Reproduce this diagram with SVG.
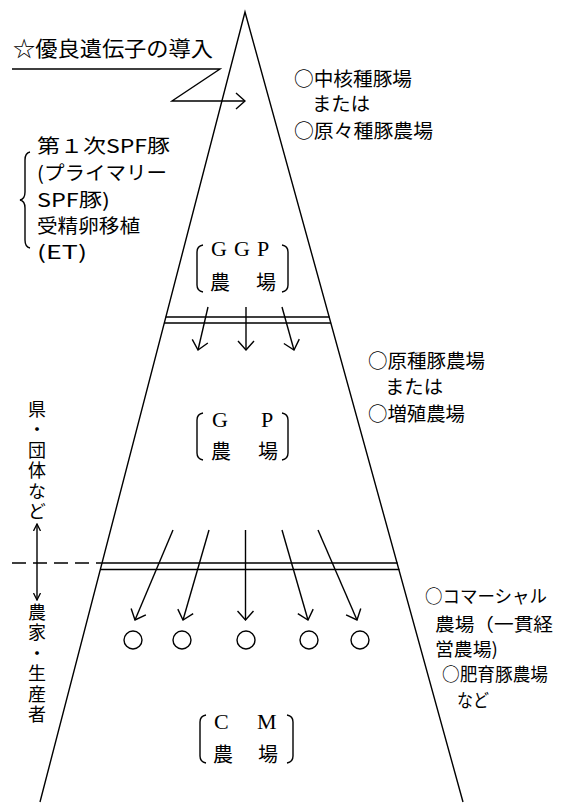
<svg xmlns="http://www.w3.org/2000/svg" width="566" height="806" viewBox="0 0 566 806">
<style>
.ln{stroke:#000;stroke-width:1.4;fill:none}
.jp{font-family:"Noto Sans CJK JP","Noto Sans",sans-serif;fill:#000}
.lat{font-family:"Liberation Serif","Noto Sans CJK JP",serif;fill:#000}
.t18{font-size:18px}
.t19{font-size:19px}
.t20{font-size:20px}
.vt{font-size:18px;writing-mode:vertical-rl;letter-spacing:2.5px}
</style>
<defs>
<marker id="ah" viewBox="0 0 11 18" refX="10" refY="9" markerWidth="11" markerHeight="18" markerUnits="userSpaceOnUse" orient="auto">
<path d="M1,1 L10,9 L1,17" fill="none" stroke="#000" stroke-width="1.4"/>
</marker>
<marker id="ahs" viewBox="0 0 8 8" refX="7" refY="4" markerWidth="8" markerHeight="8" markerUnits="userSpaceOnUse" orient="auto-start-reverse">
<path d="M0,0.5 L7,4 L0,7.5" fill="none" stroke="#000" stroke-width="1.3"/>
</marker>
</defs>
<rect width="566" height="806" fill="#fff"/>

<g id="pyramid">
<path class="ln" d="M40,802 L245,12 L463,802"/>
</g>

<g id="connectors">
<path class="ln" d="M12,69 L220,69 L172,101 L245,101" marker-end="url(#ah)"/>
<path class="ln" d="M165.7,317 L329.5,317 M164.1,323 L331.1,323"/>
<path class="ln" d="M208,307 L198,350" marker-end="url(#ah)"/>
<path class="ln" d="M246,307 L246,350" marker-end="url(#ah)"/>
<path class="ln" d="M282,307 L294,350" marker-end="url(#ah)"/>
<path class="ln" d="M12,563 L101.7,563" stroke-dasharray="14,7"/>
<path class="ln" d="M101.7,563 L397.6,563 M100,569.5 L399.4,569.5"/>
<path class="ln" d="M173,530 L135,620" marker-end="url(#ah)"/>
<path class="ln" d="M209,530 L183,620" marker-end="url(#ah)"/>
<path class="ln" d="M245.5,530 L245.5,620" marker-end="url(#ah)"/>
<path class="ln" d="M282,530 L308,620" marker-end="url(#ah)"/>
<path class="ln" d="M318,530 L357,620" marker-end="url(#ah)"/>
<path class="ln" d="M37,524 L37,600" stroke-width="1.2" marker-start="url(#ahs)" marker-end="url(#ahs)"/>
<path class="ln" stroke-width="1.2" d="M30,152 Q25,153 25,160 L25,192 Q25,199 20,200 Q25,201 25,208 L25,240 Q25,247 30,248"/>
</g>

<g id="title">
<text class="jp" x="13" y="56" font-size="21" textLength="200" lengthAdjust="spacingAndGlyphs">☆優良遺伝子の導入</text>
</g>

<g id="label-nucleus">
<text class="jp t19" x="294" y="86" textLength="118" lengthAdjust="spacingAndGlyphs">○中核種豚場</text>
<text class="jp t19" x="312" y="111" textLength="58" lengthAdjust="spacingAndGlyphs">または</text>
<text class="jp t19" x="294" y="138" textLength="139" lengthAdjust="spacingAndGlyphs">○原々種豚農場</text>
</g>

<g id="label-spf">
<text class="jp t19" x="37" y="153" textLength="133" lengthAdjust="spacingAndGlyphs">第１次SPF豚</text>
<text class="jp t19" x="37" y="180" textLength="130" lengthAdjust="spacingAndGlyphs">(プライマリー</text>
<text class="jp t19" x="37" y="207" textLength="73" lengthAdjust="spacingAndGlyphs">SPF豚)</text>
<text class="jp t19" x="37" y="233" textLength="103" lengthAdjust="spacingAndGlyphs">受精卵移植</text>
<text class="jp t19" x="37" y="259" textLength="50" lengthAdjust="spacingAndGlyphs">(ET)</text>
</g>

<g id="ggp">
<path class="ln" stroke-width="1.2" d="M203,245 Q197,246 197,252 L197,285 Q197,291 203,292"/>
<path class="ln" stroke-width="1.2" d="M282,245 Q288,246 288,252 L288,285 Q288,291 282,292"/>
<text class="lat" font-size="22" y="256"><tspan x="211">G</tspan><tspan x="234">G</tspan><tspan x="257">P</tspan></text>
<text class="jp t20" y="290"><tspan x="210">農</tspan><tspan x="256">場</tspan></text>
</g>

<g id="label-gp">
<text class="jp t19" x="368" y="368" textLength="117" lengthAdjust="spacingAndGlyphs">○原種豚農場</text>
<text class="jp t19" x="385" y="394" textLength="58" lengthAdjust="spacingAndGlyphs">または</text>
<text class="jp t19" x="368" y="421" textLength="97" lengthAdjust="spacingAndGlyphs">○増殖農場</text>
</g>

<g id="gp">
<path class="ln" stroke-width="1.2" d="M203,413 Q197,414 197,420 L197,453 Q197,459 203,460"/>
<path class="ln" stroke-width="1.2" d="M282,413 Q288,414 288,420 L288,453 Q288,459 282,460"/>
<text class="lat" font-size="22" y="427"><tspan x="212">G</tspan><tspan x="261">P</tspan></text>
<text class="jp t20" y="459"><tspan x="211">農</tspan><tspan x="258">場</tspan></text>
</g>

<g id="label-left">
<text class="jp vt" x="37" y="400">県・団体など</text>
<text class="jp vt" x="37" y="603">農家・生産者</text>
</g>

<g id="farms">
<circle class="ln" cx="133" cy="640" r="9"/>
<circle class="ln" cx="182" cy="640" r="9"/>
<circle class="ln" cx="246" cy="640" r="9"/>
<circle class="ln" cx="309" cy="640" r="9"/>
<circle class="ln" cx="360" cy="640" r="9"/>
</g>

<g id="label-cm">
<text class="jp t18" x="425" y="603" textLength="122" lengthAdjust="spacingAndGlyphs">○コマーシャル</text>
<text class="jp t18" x="435" y="631" textLength="118" lengthAdjust="spacingAndGlyphs">農場（一貫経</text>
<text class="jp t18" x="435" y="656" textLength="63" lengthAdjust="spacingAndGlyphs">営農場)</text>
<text class="jp t18" x="442" y="681" textLength="106" lengthAdjust="spacingAndGlyphs">○肥育豚農場</text>
<text class="jp t18" x="457" y="707" textLength="32" lengthAdjust="spacingAndGlyphs">など</text>
</g>

<g id="cm">
<path class="ln" stroke-width="1.2" d="M206,715 Q200,716 200,722 L200,756 Q200,762 206,763"/>
<path class="ln" stroke-width="1.2" d="M287,715 Q293,716 293,722 L293,756 Q293,762 287,763"/>
<text class="lat" font-size="22" y="729"><tspan x="214">C</tspan><tspan x="257">M</tspan></text>
<text class="jp t20" y="762"><tspan x="213">農</tspan><tspan x="258">場</tspan></text>
</g>
</svg>
